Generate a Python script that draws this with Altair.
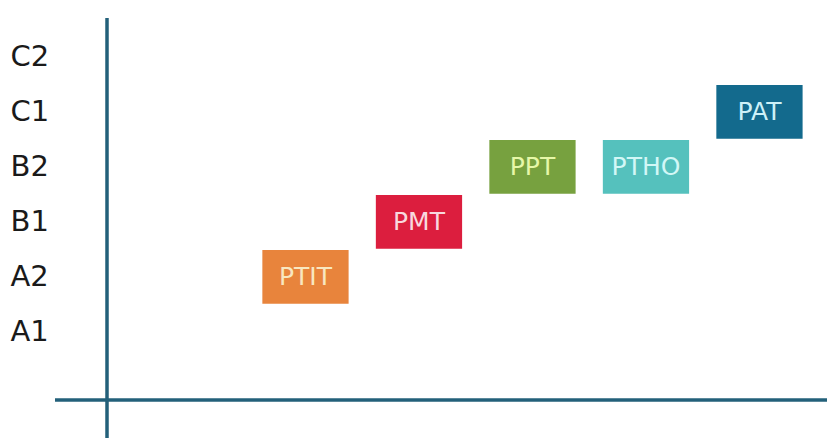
import altair as alt
import pandas as pd

# Data
labels = ["PTIT", "PMT", "PPT", "PTHO", "PAT"]
columns = [1, 2, 3, 4, 5]
box_levels = ["A2", "B1", "B2", "B2", "C1"]
levels = ["A1", "A2", "B1", "B2", "C1", "C2"]
box_colors = ["#E8843C", "#DC1E3E", "#77A13F", "#55C1BD", "#136A8D"]
text_colors = ["#F8E7C0", "#F8D8DE", "#E6F7A8", "#D2F7F6", "#CDF1F8"]

df = pd.DataFrame({
    "label": labels,
    "col": columns,
    "level": box_levels,
    "k": [levels.index(l) + 1 for l in box_levels],
    "fill": box_colors,
    "tcol": text_colors,
})

W, H = 819, 430
xscale = alt.Scale(domain=[-1.621, 5.595], nice=False, zero=False)
yscale = alt.Scale(domain=[-0.93, 6.89], nice=False, zero=False)

label_expr = "[" + ",".join("'%s'" % l for l in levels) + "][datum.value - 1]"

yaxis = alt.Axis(values=list(range(1, len(levels) + 1)),
                 labelExpr=label_expr, domain=False, ticks=False,
                 grid=False, labelAlign="left", labelBaseline="middle",
                 labelPadding=-2, labelFontSize=29, labelOffset=0,
                 labelFont="DejaVu Sans", labelColor="#1a1a1a",
                 title=None)
xaxis = alt.Axis(domain=False, ticks=False, labels=False, grid=False, title=None)

base = alt.Chart(df)

boxes = base.transform_calculate(
    x0="datum.col - 0.38", x1="datum.col + 0.38",
    y0="datum.k - 0.49", y1="datum.k + 0.49",
).mark_rect().encode(
    x=alt.X("x0:Q", scale=xscale, axis=xaxis),
    x2="x1:Q",
    y=alt.Y("y0:Q", scale=yscale, axis=yaxis),
    y2="y1:Q",
    color=alt.Color("fill:N", scale=None),
)

texts = base.mark_text(font="DejaVu Sans", fontSize=25, baseline="middle",
                       align="center").encode(
    x=alt.X("col:Q", scale=xscale, axis=xaxis),
    y=alt.Y("k:Q", scale=yscale, axis=yaxis),
    text="label:N",
    color=alt.Color("tcol:N", scale=None),
)

line_color = "#23607A"
vline = alt.Chart(pd.DataFrame({"a": [0]})).mark_rule(
    color=line_color, strokeWidth=3.5).encode(
    x=alt.value(99), y=alt.value(10), y2=alt.value(440))
hline = alt.Chart(pd.DataFrame({"a": [0]})).mark_rule(
    color=line_color, strokeWidth=3.5).encode(
    x=alt.value(47), x2=alt.value(830), y=alt.value(392))

chart = alt.layer(boxes, texts, vline, hline).properties(
    width=W, height=H, autosize=alt.AutoSizeParams(type="none"),
    padding=0, background="white",
).configure_view(stroke=None)

chart.save("out.html", embed_options={"renderer": "svg", "actions": False})
